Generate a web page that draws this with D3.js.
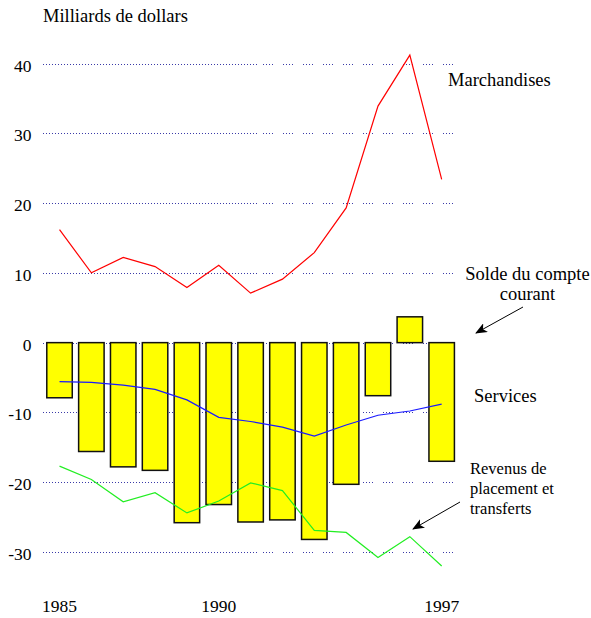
<!DOCTYPE html>
<html>
<meta charset="utf-8">
<style>
  body { margin: 0; background: #fff; }
  svg text { font-family: "Liberation Serif", "Times New Roman", Times, "DejaVu Serif", serif; fill: #000; }
  .grid line { stroke: #3a3aa8; stroke-width: 1; }
</style>
<body>
<script src="https://d3js.org/d3.v7.min.js"></script>
<script>
var years = [1985, 1986, 1987, 1988, 1989, 1990, 1991, 1992, 1993, 1994, 1995, 1996, 1997];
var yearLabels = [1985, 1990, 1997];
var yTicks = [40, 30, 20, 10, 0, -10, -20, -30];

// solde du compte courant (barres)
var solde = [-7.9, -15.6, -17.8, -18.3, -25.8, -23.2, -25.7, -25.4, -28.2, -20.3, -7.6, 3.7, -17.0];
// marchandises
var marchandises = [16.2, 10.0, 12.2, 10.9, 7.9, 11.1, 7.1, 9.1, 12.9, 19.3, 33.9, 41.2, 23.4];
// services
var services = [-5.6, -5.7, -6.1, -6.7, -8.2, -10.7, -11.3, -12.1, -13.4, -11.8, -10.4, -9.8, -8.8];
// revenus de placement et transferts
var revenus = [-17.7, -19.6, -22.8, -21.5, -24.4, -22.7, -20.1, -21.2, -26.9, -27.2, -30.8, -27.8, -32.0];

var width = 591, height = 618;

var svg = d3.select("body").append("svg")
    .attr("width", width)
    .attr("height", height)
    .attr("font-family", "'Liberation Serif', 'Times New Roman', serif");

var x = d3.scaleBand()
    .domain(years)
    .range([43.6, 457.6])
    .paddingInner(0.2)
    .paddingOuter(0.1);

var y = d3.scaleLinear()
    .domain([-30, 40])
    .range([552, 63.5]);

function cx(d) { return x(d) + x.bandwidth() / 2; }

// grid lines: dense dots on the left, grouped dots on the right
var grid = svg.append("g").attr("class", "grid");
yTicks.forEach(function(t) {
  var gy = Math.round(y(t)) + 0.5;
  grid.append("line")
      .attr("x1", 43).attr("x2", 258)
      .attr("y1", gy).attr("y2", gy)
      .style("stroke-dasharray", "1,2");
  grid.append("line")
      .attr("x1", 263).attr("x2", 459)
      .attr("y1", gy).attr("y2", gy)
      .style("stroke-dasharray", "1,2,1,2,1,2,1,10");
});

// tick labels
svg.append("g").selectAll("text")
    .data(yTicks)
  .enter().append("text")
    .attr("x", 31.5)
    .attr("y", function(d) { return y(d) + 8; })
    .attr("text-anchor", "end")
    .style("font-size", "17.5px")
    .text(function(d) { return d; });

svg.append("text")
    .attr("x", 43).attr("y", 22)
    .style("font-size", "18.5px")
    .text("Milliards de dollars");

// bars
svg.append("g").selectAll("rect")
    .data(years)
  .enter().append("rect")
    .attr("x", function(d) { return x(d); })
    .attr("width", x.bandwidth())
    .attr("y", function(d, i) { return y(Math.max(0, solde[i])); })
    .attr("height", function(d, i) { return Math.abs(y(solde[i]) - y(0)); })
    .style("fill", "#ffff00")
    .style("stroke", "#111")
    .style("stroke-width", 1.5);

// lines
function drawLine(values, color) {
  var line = d3.line()
      .x(function(d, i) { return cx(years[i]); })
      .y(function(d) { return y(d); });
  svg.append("path")
      .datum(values)
      .attr("d", line)
      .style("fill", "none")
      .style("stroke", color)
      .style("stroke-width", 1.2);
}
drawLine(marchandises, "#ff0000");
drawLine(services, "#1a1aff");
drawLine(revenus, "#22ee22");

// year labels
svg.append("g").selectAll("text")
    .data(yearLabels)
  .enter().append("text")
    .attr("x", function(d) { return cx(d); })
    .attr("y", 612)
    .attr("text-anchor", "middle")
    .style("font-size", "17.5px")
    .text(function(d) { return d; });

// annotations
svg.append("text").attr("x", 448).attr("y", 86).style("font-size", "18.5px").text("Marchandises");
svg.append("text").attr("x", 527.5).attr("y", 280).attr("text-anchor", "middle").style("font-size", "18.5px").text("Solde du compte");
svg.append("text").attr("x", 527.5).attr("y", 300).attr("text-anchor", "middle").style("font-size", "18.5px").text("courant");
svg.append("text").attr("x", 474).attr("y", 402).style("font-size", "18.5px").text("Services");
svg.append("text").attr("x", 470).attr("y", 474).style("font-size", "16.5px").text("Revenus de");
svg.append("text").attr("x", 470).attr("y", 494).style("font-size", "16.5px").text("placement et");
svg.append("text").attr("x", 470).attr("y", 514).style("font-size", "16.5px").text("transferts");

svg.append("defs").append("marker")
    .attr("id", "arrow")
    .attr("viewBox", "0 0 12 10")
    .attr("refX", 11).attr("refY", 5)
    .attr("markerWidth", 12).attr("markerHeight", 10)
    .attr("markerUnits", "userSpaceOnUse")
    .attr("orient", "auto")
  .append("path")
    .attr("d", "M0,0 L12,5 L0,10 L3,5 Z")
    .style("fill", "#000");

svg.append("line")
    .attr("x1", 523).attr("y1", 307).attr("x2", 476).attr("y2", 333)
    .style("stroke", "#000").style("stroke-width", 1)
    .attr("marker-end", "url(#arrow)");
svg.append("line")
    .attr("x1", 460).attr("y1", 502).attr("x2", 413).attr("y2", 529)
    .style("stroke", "#000").style("stroke-width", 1)
    .attr("marker-end", "url(#arrow)");
</script>
</body>
</html>
